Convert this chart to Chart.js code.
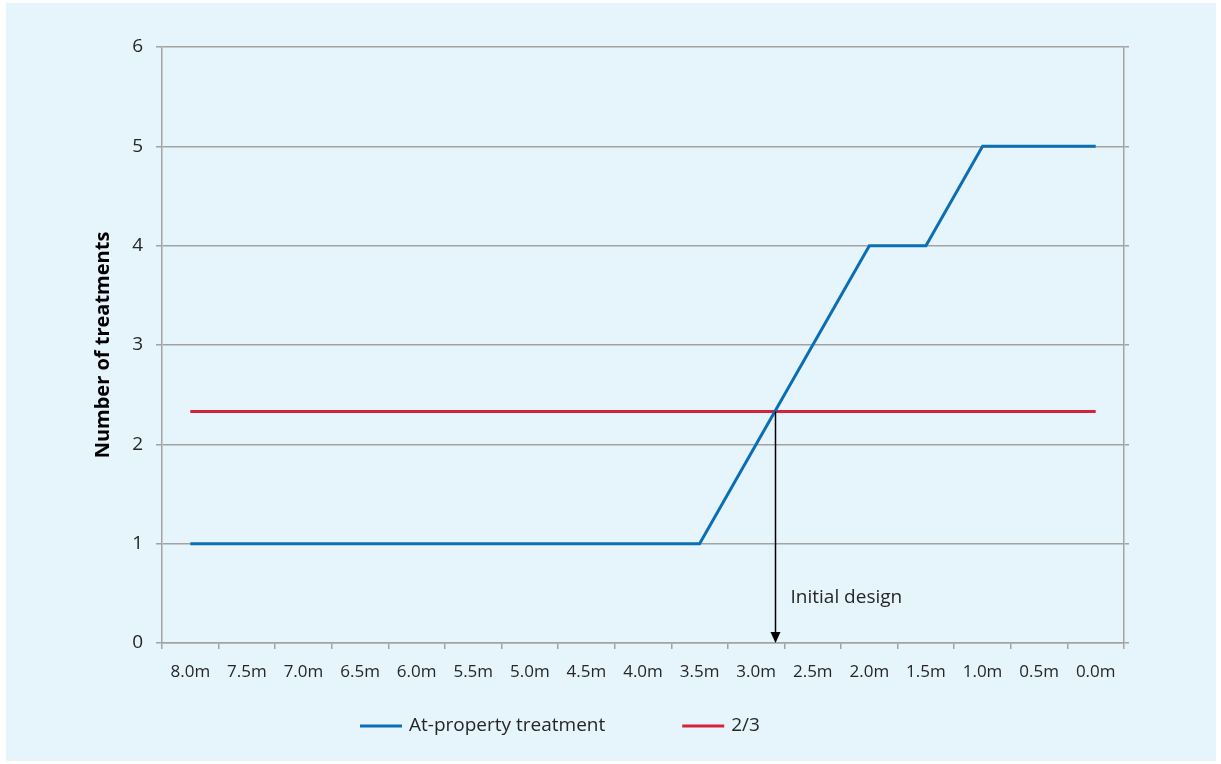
<!DOCTYPE html>
<html>
<head>
<meta charset="utf-8">
<title>Number of treatments</title>
<script src="https://cdn.jsdelivr.net/npm/chart.js@4.4.0/dist/chart.umd.min.js"></script>
<style>
  html, body { margin: 0; padding: 0; background: #ffffff; }
  #myChart { display: block; }
</style>
</head>
<body>
<canvas id="myChart" width="1221" height="764"></canvas>
<script>
const xLabels = ["8.0m", "7.5m", "7.0m", "6.5m", "6.0m", "5.5m", "5.0m", "4.5m", "4.0m",
                 "3.5m", "3.0m", "2.5m", "2.0m", "1.5m", "1.0m", "0.5m", "0.0m"];
const treatments = [1, 1, 1, 1, 1, 1, 1, 1, 1, 1, 2, 3, 4, 4, 5, 5, 5];
const twoThirds = [2.33, 2.33, 2.33, 2.33, 2.33, 2.33, 2.33, 2.33, 2.33,
                   2.33, 2.33, 2.33, 2.33, 2.33, 2.33, 2.33, 2.33];
const yTicks = [0, 1, 2, 3, 4, 5, 6];
const annotationText = "Initial design";

const gridGrey = "#a3a3a3";
const textCol = "#262626";
const fontName = "'Open Sans', 'Noto Sans', sans-serif";

// light blue panel behind everything
const panelBg = {
  id: "panelBg",
  beforeDraw(chart) {
    const ctx = chart.ctx;
    ctx.save();
    ctx.fillStyle = "#e6f4fc";
    ctx.fillRect(6, 3, 1210, 758);
    ctx.restore();
  }
};

// arrow down from where the blue line crosses the 2/3 line
const crossArrow = {
  id: "crossArrow",
  afterDatasetsDraw(chart) {
    const xs = chart.scales.x, ys = chart.scales.y;
    let at = null;
    for (let i = 1; i < treatments.length; i++) {
      const a = treatments[i - 1] - twoThirds[i - 1];
      const b = treatments[i] - twoThirds[i];
      if (a < 0 && b >= 0) { at = i - 1 + (-a) / (b - a); break; }
    }
    if (at === null) return;
    const x = Math.round(xs.getPixelForValue(at)) + 0.5;
    const yTop = ys.getPixelForValue(twoThirds[0]);
    const yBot = ys.getPixelForValue(0);
    const ctx = chart.ctx;
    ctx.save();
    ctx.strokeStyle = "#000";
    ctx.fillStyle = "#000";
    ctx.lineWidth = 1.5;
    ctx.beginPath();
    ctx.moveTo(x, yTop);
    ctx.lineTo(x, yBot - 10);
    ctx.stroke();
    ctx.beginPath();
    ctx.moveTo(x - 5, yBot - 11);
    ctx.lineTo(x + 5, yBot - 11);
    ctx.lineTo(x, yBot);
    ctx.closePath();
    ctx.fill();
    ctx.font = "19px " + fontName;
    ctx.fillStyle = textCol;
    ctx.textBaseline = "middle";
    ctx.fillText(annotationText, x + 15, ys.getPixelForValue(0.46));
    ctx.restore();
  }
};

// legend under the plot, line swatch + label per dataset
const lineLegend = {
  id: "lineLegend",
  afterDraw(chart) {
    const ctx = chart.ctx;
    let x = 360;
    const y = 726;
    ctx.save();
    ctx.font = "19px " + fontName;
    ctx.textBaseline = "middle";
    chart.data.datasets.forEach(function(ds) {
      ctx.strokeStyle = ds.borderColor;
      ctx.lineWidth = 3;
      ctx.beginPath();
      ctx.moveTo(x, y);
      ctx.lineTo(x + 42, y);
      ctx.stroke();
      ctx.fillStyle = textCol;
      ctx.fillText(ds.label, x + 49, y);
      x += 49 + ctx.measureText(ds.label).width + 77;
    });
    ctx.restore();
  }
};

new Chart("myChart", {
  type: "line",
  data: {
    labels: xLabels,
    datasets: [
      {
        label: "At-property treatment",
        data: treatments,
        borderColor: "#0b6fb5",
        backgroundColor: "#0b6fb5",
        borderWidth: 3,
        pointRadius: 0,
        tension: 0
      },
      {
        label: "2/3",
        data: twoThirds,
        borderColor: "#d7223b",
        backgroundColor: "#d7223b",
        borderWidth: 3,
        pointRadius: 0,
        tension: 0
      }
    ]
  },
  plugins: [panelBg, crossArrow, lineLegend],
  options: {
    responsive: false,
    animation: false,
    layout: { padding: { left: 6, right: 92, top: 47, bottom: 0 } },
    plugins: {
      legend: { display: false },
      tooltip: { enabled: false },
      title: { display: false }
    },
    scales: {
      x: {
        type: "category",
        offset: true,
        grid: {
          offset: true,
          drawOnChartArea: false,
          drawTicks: true,
          tickLength: 6,
          color: gridGrey,
          lineWidth: 1.5
        },
        border: { color: gridGrey, width: 1.5 },
        ticks: {
          color: textCol,
          font: { family: fontName, size: 17 },
          padding: 13,
          maxRotation: 0,
          autoSkip: false
        },
        afterFit(scale) { scale.height = 121; }
      },
      y: {
        min: 0,
        max: 6,
        afterBuildTicks(scale) { scale.ticks = yTicks.map(v => ({ value: v })); },
        grid: { color: gridGrey, lineWidth: 1.5, tickLength: 6 },
        border: { color: gridGrey, width: 1.5 },
        ticks: {
          color: textCol,
          font: { family: fontName, size: 19 },
          padding: 13
        },
        title: {
          display: true,
          text: "Number of treatments",
          color: "#000",
          font: { family: fontName, size: 20, weight: "bold" },
          padding: { top: 85, bottom: 0 }
        },
        afterFit(scale) { scale.width = 156; }
      },
      y2: {
        position: "right",
        min: 0,
        max: 6,
        afterBuildTicks(scale) { scale.ticks = yTicks.map(v => ({ value: v })); },
        grid: { drawOnChartArea: false, color: gridGrey, lineWidth: 1.5, tickLength: 5 },
        border: { color: gridGrey, width: 1.5 },
        ticks: { display: false }
      }
    }
  }
});
</script>
</body>
</html>
